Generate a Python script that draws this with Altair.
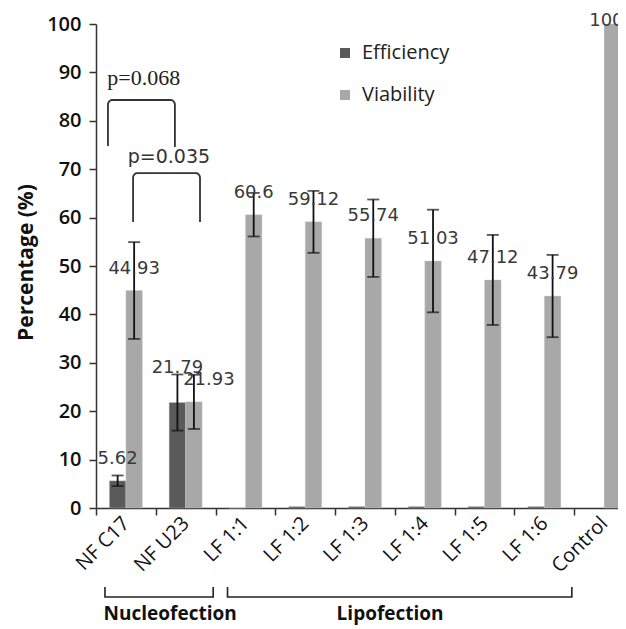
import math
import altair as alt
import pandas as pd

# ---------------- data ----------------
categories = ["NF C17", "NF U23", "LF 1:1", "LF 1:2", "LF 1:3", "LF 1:4", "LF 1:5", "LF 1:6", "Control"]
series_names = ["Efficiency", "Viability"]

efficiency = [5.62, 21.79, 0.0, 0.3, 0.3, 0.3, 0.3, 0.3, None]
efficiency_err = [1.1, 5.8, None, None, None, None, None, None, None]
efficiency_labels = ["5.62", "21.79", None, None, None, None, None, None, None]

viability = [44.93, 21.93, 60.6, 59.12, 55.74, 51.03, 47.12, 43.79, 100]
viability_err = [10.0, 5.6, 4.5, 6.4, 8.0, 10.6, 9.3, 8.5, None]
viability_labels = ["44.93", "21.93", "60.6", "59.12", "55.74", "51.03", "47.12", "43.79", "100"]

p_labels = ["p=0.068", "p=0.035"]
group_names = ["Nucleofection", "Lipofection"]

colors = ["#5a5a5a", "#a8a8a8"]

# ---------------- tables ----------------
rows = []
for s, vals, errs, labs in [("Efficiency", efficiency, efficiency_err, efficiency_labels),
                            ("Viability", viability, viability_err, viability_labels)]:
    for c, v, e, l in zip(categories, vals, errs, labs):
        if v is None:
            continue
        rows.append({"cat": c, "series": s, "value": v,
                     "lo": (v - e) if e is not None else None,
                     "hi": (v + e) if e is not None else None,
                     "label": l})
df = pd.DataFrame(rows)
df_err = df.dropna(subset=["lo"])
df_lab = df.dropna(subset=["label"])

# label placement adjustments (pixels): default above the bar
label_shift = {("NF U23", "Efficiency"): (0, -35), ("NF U23", "Viability"): (15, -22),
               ("Control", "Viability"): (-6, -3)}

W_RANGE = 538
x_scale = alt.Scale(domain=categories, range=[0, W_RANGE], paddingInner=0, paddingOuter=0)
xo_scale = alt.Scale(domain=series_names, paddingInner=0, paddingOuter=0.81)
y_scale = alt.Scale(domain=[0, 100], nice=False, zero=True)

x_axis = alt.Axis(title=None, tickBand="extent", labelAngle=315, labelAlign="right",
                  labelBaseline="middle", labelFont="Open Sans", labelFontSize=20,
                  labelColor="#111", labelPadding=5, tickSize=7, tickColor="#333",
                  tickWidth=1.5, domainColor="#333", domainWidth=1.5)
y_axis = alt.Axis(values=list(range(0, 101, 10)), grid=False, title="Percentage (%)",
                  titleFont="Open Sans", titleFontSize=21, titleFontWeight="bold",
                  titleColor="#111", titleX=-70, titleY=238, titleAngle=270,
                  titleAlign="center", titleBaseline="middle",
                  labelFont="Open Sans", labelFontSize=20, labelFontWeight=600,
                  labelColor="#111",
                  labelPadding=8, tickSize=7, tickColor="#333", tickWidth=1.5,
                  domainColor="#333", domainWidth=1.5)

X = alt.X("cat:N", sort=categories, scale=x_scale, axis=x_axis)
Xn = alt.X("cat:N", sort=categories, scale=x_scale, axis=None)
XO = alt.XOffset("series:N", scale=xo_scale, sort=series_names)

bars = alt.Chart(df).mark_bar(stroke="#d0d0d0", strokeWidth=0.6, strokeOpacity=0.6).encode(
    x=X, xOffset=XO,
    y=alt.Y("value:Q", scale=y_scale, axis=y_axis),
    color=alt.Color("series:N", sort=series_names,
                    scale=alt.Scale(domain=series_names, range=colors),
                    legend=alt.Legend(orient="none", legendX=239, legendY=19, title=None,
                                      symbolType="square", symbolSize=100,
                                      symbolStrokeWidth=0,
                                      labelFont="Open Sans", labelFontSize=20,
                                      labelColor="#222", rowPadding=22, padding=0,
                                      labelOffset=7)),
)

err_rule = alt.Chart(df_err).mark_rule(color="#111", strokeWidth=1.8).encode(
    x=Xn, xOffset=XO,
    y=alt.Y("lo:Q", scale=y_scale, axis=None), y2="hi:Q")
cap_lo = alt.Chart(df_err).mark_tick(color="#111", size=12, thickness=1.8).encode(
    x=Xn, xOffset=XO, y=alt.Y("lo:Q", scale=y_scale, axis=None))
cap_hi = alt.Chart(df_err).mark_tick(color="#111", size=12, thickness=1.8).encode(
    x=Xn, xOffset=XO, y=alt.Y("hi:Q", scale=y_scale, axis=None))

text_layers = []
df_lab = df_lab.copy()
df_lab["shift"] = [label_shift.get((c, s), (0, -22)) for c, s in zip(df_lab["cat"], df_lab["series"])]
for shift, sub in df_lab.groupby("shift"):
    text_layers.append(
        alt.Chart(sub.drop(columns=["shift"])).mark_text(
            font="DejaVu Sans", fontSize=18, color="#3a3a3a", baseline="middle",
            dx=shift[0], dy=shift[1]).encode(
            x=Xn, xOffset=XO, y=alt.Y("value:Q", scale=y_scale, axis=None), text="label:N"))

inner = alt.layer(bars, err_rule, cap_lo, cap_hi, *text_layers).resolve_axis(
    x="independent", y="independent")

# ---------------- annotations (category-index units) ----------------
xq_scale = alt.Scale(domain=[0, len(categories)], range=[0, W_RANGE], nice=False, zero=False)


def rounded_bracket(name, x1, x2, yb1, yt, yb2, rx=0.07, ry=1.0):
    pts = [(x1, yb1)]
    for k in range(0, 7):
        a = math.pi * (1 - k / 12.0)  # 180 -> 90 deg
        pts.append((x1 + rx + rx * math.cos(a), yt - ry + ry * math.sin(a)))
    for k in range(6, 13):
        a = math.pi * (1 - k / 12.0)  # 90 -> 0 deg
        pts.append((x2 - rx + rx * math.cos(a), yt - ry + ry * math.sin(a)))
    pts.append((x2, yb2))
    return [{"b": name, "i": i, "x": p[0], "y": p[1]} for i, p in enumerate(pts)]


br_rows = rounded_bracket("p1", 0.2, 1.32, 74.8, 84.3, 74.6) + \
          rounded_bracket("p2", 0.62, 1.74, 59.1, 69.2, 59.1)
df_br = pd.DataFrame(br_rows)

grp_rows = []
for name, x1, x2 in [(group_names[0], 0.15, 1.96), (group_names[1], 2.2, 7.96)]:
    for i, (xx, yy) in enumerate([(x1, -16.3), (x1, -18.4), (x2, -18.4), (x2, -16.3)]):
        grp_rows.append({"b": name, "i": i, "x": xx, "y": yy})
df_grp = pd.DataFrame(grp_rows)

XQ = alt.X("x:Q", scale=xq_scale, axis=None)
YQ = alt.Y("y:Q", scale=y_scale, axis=None)

p_lines = alt.Chart(df_br).mark_line(color="#333", strokeWidth=1.8).encode(
    x=XQ, y=YQ, detail="b:N", order="i:Q")
g_lines = alt.Chart(df_grp).mark_line(color="#222", strokeWidth=1.6).encode(
    x=XQ, y=YQ, detail="b:N", order="i:Q")

p1_text = alt.Chart(pd.DataFrame({"x": [0.8], "y": [88.8], "t": [p_labels[0]]})).mark_text(
    font="Liberation Serif", fontSize=22, color="#222", baseline="middle").encode(
    x=XQ, y=YQ, text="t:N")
p2_text = alt.Chart(pd.DataFrame({"x": [1.22], "y": [72.5], "t": [p_labels[1]]})).mark_text(
    font="DejaVu Sans", fontSize=19, color="#333", baseline="middle").encode(
    x=XQ, y=YQ, text="t:N")
g_text = alt.Chart(pd.DataFrame({"x": [1.24, 4.92], "y": [-22.0, -22.0], "t": group_names})).mark_text(
    font="Open Sans", fontSize=19, fontWeight="bold", color="#111", baseline="middle").encode(
    x=XQ, y=YQ, text="t:N")

annot = alt.layer(p_lines, g_lines, p1_text, p2_text, g_text).resolve_axis(
    x="independent", y="independent")

chart = alt.layer(inner, annot).resolve_scale(x="independent").resolve_axis(
    x="independent", y="independent").properties(
    width=522, height=484,
    autosize=alt.AutoSizeParams(type="none"),
    padding={"left": 88, "top": 16, "right": 0, "bottom": 121},
    background="white",
).configure_view(strokeWidth=0)

chart.save("out.html", embed_options={"renderer": "svg", "actions": False})
